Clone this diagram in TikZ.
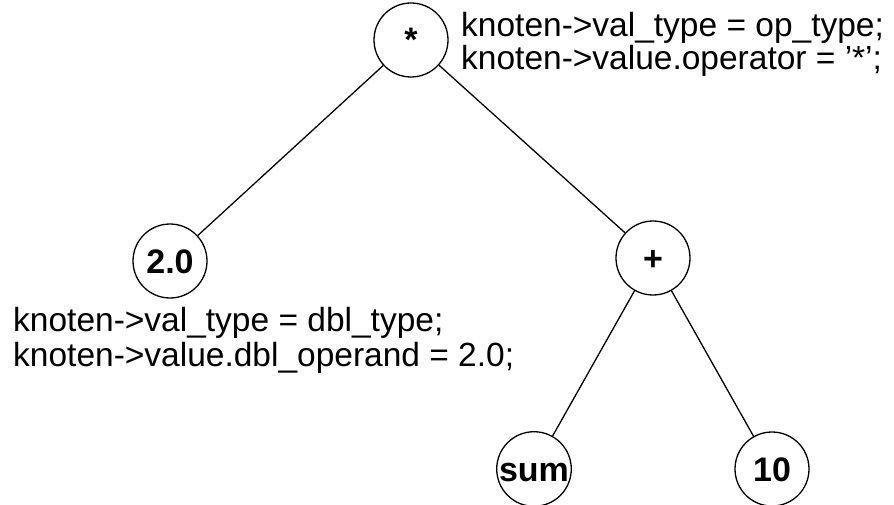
\documentclass[tikz,border=0pt]{standalone}
\usepackage{fontspec}
\setmainfont{Liberation Sans}
\begin{document}
\begin{tikzpicture}[x=1pt,y=-1pt,
  treenode/.style={circle,draw,line width=1.3pt,minimum size=74pt,inner sep=0pt,
    text height=25pt,text depth=1pt,
    font=\fontsize{34}{36}\selectfont\bfseries},
  edge/.style={line width=1.3pt},
  code/.style={anchor=base west,inner sep=0pt,font=\fontsize{33.5}{36}\selectfont}]
\useasboundingbox (0,0) rectangle (894,505);
% tree nodes
\node[treenode] (mul) at (411,40) {*};
\node[treenode] (two) at (170,261) {2.0};
\node[treenode] (add) at (653,258) {+};
\node[treenode] (sum) at (534,469) {sum};
\node[treenode] (ten) at (772,469) {10};
% edges
\draw[edge] (mul) -- (two);
\draw[edge] (mul) -- (add);
\draw[edge] (add) -- (sum);
\draw[edge] (add) -- (ten);
% code annotations
\node[code] (mulA) at (461,37) {knoten->val\_type = op\_type;};
\node[code] (mulB) at (461,70) {knoten->value.operator = '*';};
\node[code] (twoA) at (13,331) {knoten->val\_type = dbl\_type;};
\node[code] (twoB) at (13,366) {knoten->value.dbl\_operand = 2.0;};
\end{tikzpicture}
\end{document}
